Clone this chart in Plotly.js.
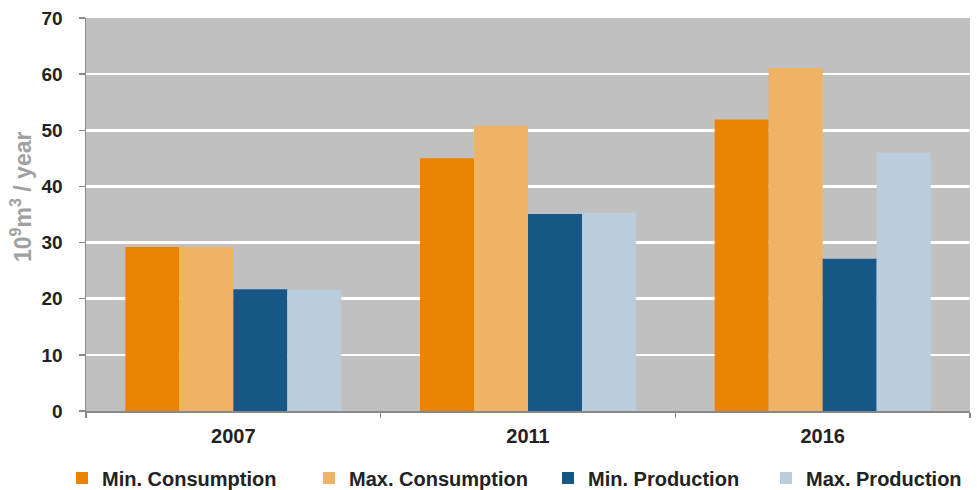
<!DOCTYPE html>
<html>
<head>
<meta charset="utf-8">
<script src="https://cdn.plot.ly/plotly-3.0.1.min.js"></script>
<style>
  html, body { margin: 0; padding: 0; background: #ffffff; }
  #chart { width: 977px; height: 490px; }
</style>
</head>
<body>
<div id="chart"></div>
<script>
// Years on the category axis
const years = ['2007', '2011', '2016'];

// Series values, 10^9 m³ per year
const minConsumption = [29.2, 45.0, 51.9];
const maxConsumption = [29.2, 50.8, 61.1];
const minProduction = [21.7, 35.1, 27.1];
const maxProduction = [21.6, 35.3, 46.0];

const seriesNames = ['Min. Consumption', 'Max. Consumption', 'Min. Production', 'Max. Production'];
const seriesColors = ['#EA8400', '#F0B264', '#175788', '#B9CDDC'];
const seriesValues = [minConsumption, maxConsumption, minProduction, maxProduction];

// Y tick values
const yTicks = [0, 10, 20, 30, 40, 50, 60, 70];

const W = 977, H = 490;

// one legend per series, laid out in a row under the axis
const legendIds = ['legend', 'legend2', 'legend3', 'legend4'];
const legendLeftPx = [62, 309, 548, 766];

const traces = seriesNames.map((name, i) => ({
  type: 'bar',
  name: name,
  x: years,
  y: seriesValues[i],
  marker: { color: seriesColors[i], line: { width: 0 } },
  legend: legendIds[i],
  showlegend: true,
  hoverinfo: 'x+y+name'
}));

const legendFont = { family: 'Liberation Sans, Arial, sans-serif', size: 20, color: '#222222', weight: 'bold' };

function makeLegend(px) {
  return {
    visible: true,
    orientation: 'h',
    xref: 'container',
    yref: 'container',
    x: px / W,
    xanchor: 'left',
    y: 1 - 478 / H,
    yanchor: 'middle',
    font: legendFont,
    bgcolor: 'rgba(0,0,0,0)',
    borderwidth: 0
  };
}

const layout = {
  width: W,
  height: H,
  showlegend: true,
  margin: { l: 86, r: 7, t: 18, b: 79, autoexpand: false },
  paper_bgcolor: '#ffffff',
  plot_bgcolor: '#C0C0C0',
  barmode: 'group',
  bargap: 0.267,
  bargroupgap: 0,
  font: { family: 'Liberation Sans, Arial, sans-serif', color: '#222222' },
  xaxis: {
    type: 'category',
    tickson: 'boundaries',
    ticks: 'outside',
    ticklen: 5,
    tickwidth: 1.5,
    tickcolor: '#888888',
    showline: true,
    linecolor: '#888888',
    linewidth: 1.5,
    showgrid: false,
    tickfont: { family: 'Liberation Sans, Arial, sans-serif', size: 20, color: '#222222', weight: 'bold' },
    ticklabelstandoff: 6
  },
  yaxis: {
    range: [0, 70],
    tickvals: yTicks,
    ticks: 'outside',
    ticklen: 6,
    tickwidth: 1.5,
    tickcolor: '#888888',
    showline: true,
    linecolor: '#888888',
    linewidth: 1.5,
    showgrid: true,
    gridcolor: '#ffffff',
    gridwidth: 2.5,
    zeroline: false,
    tickfont: { family: 'Liberation Sans, Arial, sans-serif', size: 19, color: '#222222', weight: 'bold' },
    ticklabelstandoff: 12
  },
  legend: makeLegend(legendLeftPx[0]),
  legend2: makeLegend(legendLeftPx[1]),
  legend3: makeLegend(legendLeftPx[2]),
  legend4: makeLegend(legendLeftPx[3]),
  annotations: [{
    text: '10<sup>9</sup>m<sup>3</sup> / year',
    xref: 'paper', yref: 'paper',
    x: (21 - 86) / 884, y: (411 - 197) / 393,
    xanchor: 'center', yanchor: 'middle',
    textangle: -90,
    showarrow: false,
    font: { family: 'Liberation Sans, Arial, sans-serif', size: 23, color: '#A0A0A0', weight: 'bold' }
  }]
};

Plotly.newPlot('chart', traces, layout, { displayModeBar: false, staticPlot: true });
</script>
</body>
</html>
